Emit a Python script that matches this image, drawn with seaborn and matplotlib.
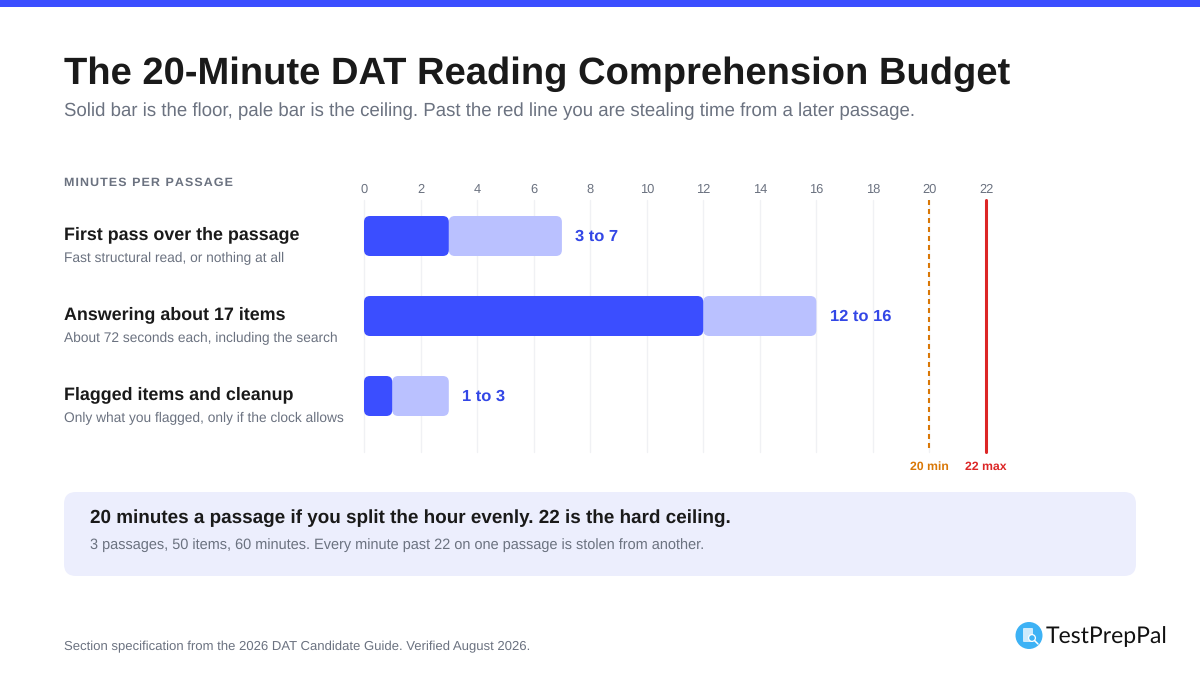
"""The 20-minute DAT reading comprehension budget, floor and ceiling bars."""

import matplotlib
matplotlib.use("Agg")
import matplotlib.pyplot as plt
import pandas as pd
import seaborn as sns
from matplotlib.patches import Circle, FancyBboxPatch, Rectangle

steps = ["First pass over the passage", "Answering about 17 items", "Flagged items and cleanup"]
notes = [
    "Fast structural read, or nothing at all",
    "About 72 seconds each, including the search",
    "Only what you flagged, only if the clock allows",
]
floors = [3, 12, 1]
ceilings = [7, 16, 3]
range_labels = ["3 to 7", "12 to 16", "1 to 3"]
minute_ticks = list(range(0, 23, 2))
grid_ticks = list(range(0, 19, 2))
target_minutes = 20
max_minutes = 22

BLUE = "#3B4EFF"
PALE = "#BAC1FF"
LABEL_BLUE = "#3347E6"
INK = "#1A1A1A"
GREY = "#6B7280"
ORANGE = "#D97706"
RED = "#DC2626"
GRID = "#F0F1F4"
PANEL = "#ECEEFD"

sns.set_theme(style="white")
plt.rcParams["font.family"] = ["Liberation Sans", "DejaVu Sans"]
plt.rcParams["text.hinting"] = "no_hinting"

W, H = 1200, 675
fig = plt.figure(figsize=(12, 6.75), dpi=100, facecolor="white")

# page layer in pixel coordinates, for the text blocks round the chart
page = fig.add_axes([0, 0, 1, 1], zorder=0)
page.set_xlim(0, W)
page.set_ylim(H, 0)
page.axis("off")

page.add_patch(Rectangle((0, 0), W, 7, color=BLUE, lw=0))
page.text(64, 74.5, "The 20-Minute DAT Reading Comprehension Budget", fontsize=27.42,
          fontweight="bold", color=INK, va="center")
page.text(64, 111.5, "Solid bar is the floor, pale bar is the ceiling. Past the red line "
          "you are stealing time from a later passage.", fontsize=13.42, color=GREY, va="center")
# the heading is letter-spaced in the original
page.text(64, 182.5, "\u200a".join("MINUTES PER PASSAGE"), fontsize=8.97, fontweight="bold",
          color=GREY, va="center")

for i, (step, note) in enumerate(zip(steps, notes)):
    page.text(64, 234.5 + 80 * i, step, fontsize=12.9, fontweight="bold", color=INK, va="center")
    page.text(64, 258 + 80 * i, note, fontsize=9.86, color=GREY, va="center")

page.add_patch(FancyBboxPatch((64, 492), 1072, 84, boxstyle="round,pad=0,rounding_size=12",
                              fc=PANEL, ec="none"))
page.text(90, 518.5, "20 minutes a passage if you split the hour evenly. 22 is the hard ceiling.",
          fontsize=13.62, fontweight="bold", color=INK, va="center")
page.text(90, 545.5, "3 passages, 50 items, 60 minutes. Every minute past 22 on one passage "
          "is stolen from another.", fontsize=10.48, color=GREY, va="center")
page.text(64, 646.5, "Section specification from the 2026 DAT Candidate Guide. Verified August 2026.",
          fontsize=9.46, color=GREY, va="center")

# logo
page.add_patch(Circle((1029, 635.5), 13.5, fc="#3DB2F5", ec="none"))
page.add_patch(FancyBboxPatch((1023, 628), 10, 14, boxstyle="round,pad=0,rounding_size=1",
                              fc="#CFEBFC", ec="none"))
page.add_patch(Circle((1032, 638), 3.4, fc="#3DB2F5", ec="white", lw=0.9))
page.plot([1034.5, 1038], [640.5, 644], color="white", lw=1.1)
page.text(1046, 637, "TestPrepPal", fontsize=16.6, color="#111111", va="center",
          family=["Lato", "DejaVu Sans"])

# chart: x runs 0 to 22 over 364..986 px, rows are 80 px apart
px_per_min = (986 - 364) / 22
ax = fig.add_axes([364 / W, 1 - 452 / H, (986 - 364) / W, (452 - 200) / H], zorder=1)
ax.patch.set_alpha(0)

df = pd.DataFrame({"step": steps, "floor": floors, "ceiling": ceilings})
sns.barplot(data=df, y="step", x="ceiling", color=PALE, width=0.5, saturation=1, ax=ax)
sns.barplot(data=df, y="step", x="floor", color=BLUE, width=0.5, saturation=1, ax=ax)

ax.set_xlim(0, 22)
ax.set_ylim(2 + 56 / 80, -36 / 80)

# swap seaborn's square bars for rounded ones, keeping their positions
bars = list(ax.patches)
aspect = px_per_min / 80
radius = 6 / px_per_min
for i, bar in enumerate(bars):
    pale = i < len(steps)
    left = floors[i] if pale else bar.get_x()
    width = ceilings[i] - floors[i] if pale else bar.get_width()
    ax.add_patch(FancyBboxPatch((left, bar.get_y()), width, bar.get_height(),
                                boxstyle=f"round,pad=0,rounding_size={radius}",
                                mutation_aspect=aspect, fc=bar.get_facecolor(), ec="none",
                                zorder=3 if pale else 4))
    bar.remove()

for x in grid_ticks + [target_minutes]:
    ax.axvline(x, color=GRID, lw=1, zorder=1, clip_on=False)
# drawn top down so the dash pattern starts at the top of the plot
ax.axvline(target_minutes, ymin=1, ymax=0, color=ORANGE, lw=1.5, dashes=(2.4, 1.92), zorder=2)
ax.axvline(max_minutes, color=RED, lw=2.2, zorder=2, clip_on=False)

for i, (top, label) in enumerate(zip(ceilings, range_labels)):
    ax.text(top + 13.5 / px_per_min, i + 1 / 80, label, fontsize=11.85, fontweight="bold",
            color=LABEL_BLUE, va="center")

ax.text(target_minutes, 2 + 71 / 80, "20 min", fontsize=8.8, fontweight="bold", color=ORANGE,
        ha="center", va="center")
ax.text(max_minutes, 2 + 71 / 80, "22 max", fontsize=8.8, fontweight="bold", color=RED,
        ha="center", va="center")

ax.xaxis.tick_top()
ax.set_xticks(minute_ticks)
ax.tick_params(axis="x", length=0, pad=5.2, labelsize=9.3, labelcolor=GREY)
for tick in ax.get_xticklabels():
    tick.set_verticalalignment("baseline")
ax.set_yticks([])
ax.set_xlabel("")
ax.set_ylabel("")
sns.despine(ax=ax, left=True, bottom=True, top=True, right=True)

fig.savefig("out.png", dpi=100)
